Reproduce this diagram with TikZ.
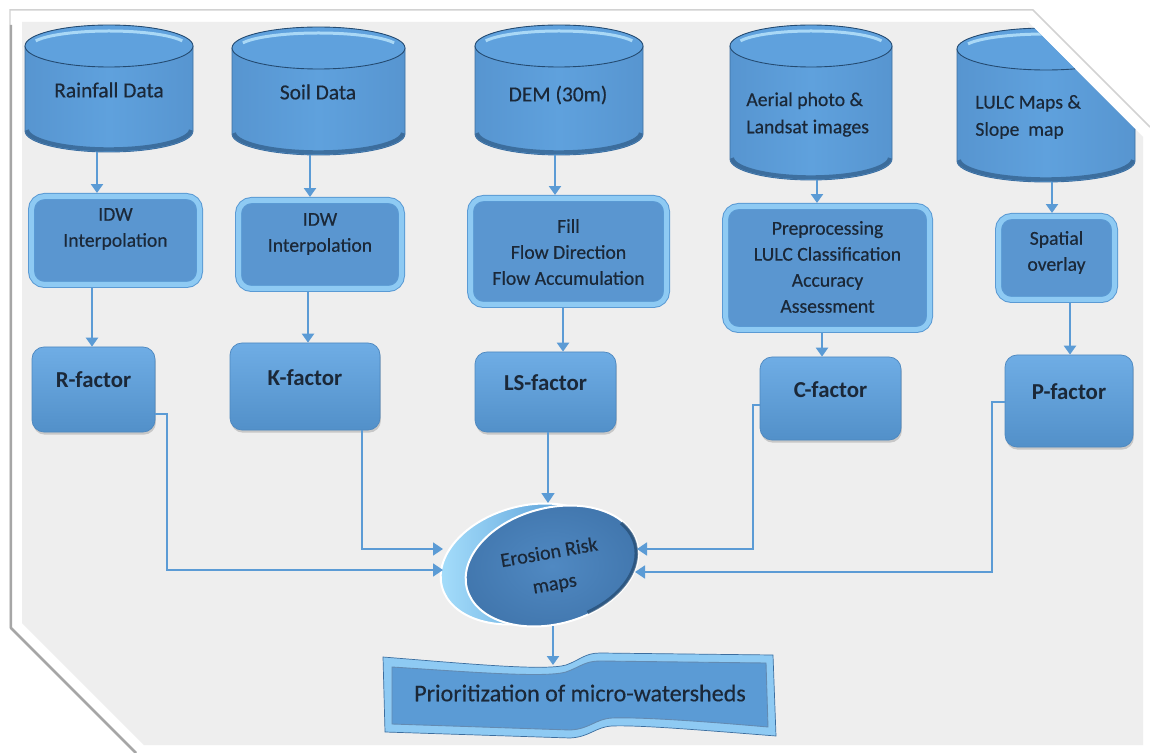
\documentclass[tikz,border=0pt]{standalone}
\usepackage{fontspec}
\setmainfont{Carlito}
\newfontfamily\semib{Carlito}[FakeBold=0.4]
\usetikzlibrary{arrows.meta,shapes.geometric,shadows}
\definecolor{bgc}{HTML}{EEEEEE}
\definecolor{mblue}{HTML}{5B9BD5}
\definecolor{cylc}{HTML}{5FA1DD}
\definecolor{cylside}{HTML}{5795D0}
\definecolor{lblue}{HTML}{8ECAF3}
\definecolor{dblue}{HTML}{3C6E9F}
\definecolor{ddblue}{HTML}{244A70}
\definecolor{txtc}{HTML}{1B2838}
\definecolor{connc}{HTML}{5B9BD5}
\definecolor{hilite}{HTML}{A9D8F6}
\definecolor{procfill}{HTML}{5A96D0}
\definecolor{procline}{HTML}{5A9AD4}
\definecolor{factop}{HTML}{6FADE5}
\definecolor{facbot}{HTML}{5290C9}
\definecolor{facline}{HTML}{4D88C0}
\definecolor{backl}{HTML}{A8E0FC}
\definecolor{backr}{HTML}{3F88CC}
\definecolor{frontin}{HTML}{5089C2}
\definecolor{frontout}{HTML}{4176AD}

\tikzset{
  geo/.style={inner sep=0pt, outer sep=0pt, draw=none},
  cyltext/.style={font=\semib\fontsize{12.2}{15.5}\selectfont, text=txtc, align=center, inner sep=0pt},
  cylltext/.style={font=\semib\fontsize{11.2}{15.5}\selectfont, text=txtc, align=left, inner sep=0pt, anchor=west},
  proc/.style={rounded corners=0.26cm, fill=procfill, draw=procline, double=lblue,
               double distance=0.1cm, line width=0.02cm, outer sep=0.07cm, inner sep=0pt},
  proctext/.style={font=\semib\fontsize{11.2}{14.8}\selectfont, text=txtc, align=center, inner sep=0pt},
  factor/.style={rounded corners=0.24cm, top color=factop, bottom color=facbot, draw=facline,
                 line width=0.4pt, inner sep=0pt,
                 drop shadow={opacity=0.35, shadow xshift=0.5pt, shadow yshift=-1.5pt}},
  factext/.style={font=\fontsize{13}{16}\selectfont\bfseries, text=txtc, inner sep=0pt},
  ermtext/.style={font=\semib\fontsize{11.5}{18}\selectfont, text=txtc, align=center, inner sep=0pt, rotate=10},
  priotext/.style={font=\semib\fontsize{13.7}{16}\selectfont, text=txtc, inner sep=0pt},
  arr/.style={draw=connc, line width=0.05cm, -{Triangle[width=0.24cm,length=0.18cm]}},
  rline/.style={draw=connc, line width=0.035cm, -{Triangle[width=0.26cm,length=0.2cm]}}
}

% name, x1, y1, x2, y2
\newcommand\cylshape[5]{%
  \pgfmathsetmacro\cylcx{(#2+#4)/2}%
  \pgfmathsetmacro\cylrx{(#4-#2)/2}%
  \shade[left color=cylside, right color=cylside, middle color=cylc]
    (#2,#3+21) -- (#2,#5-21)
    arc[start angle=180, end angle=360, x radius={\cylrx*0.02cm}, y radius=0.42cm]
    -- (#4,#3+21)
    arc[start angle=0, end angle=180, x radius={\cylrx*0.02cm}, y radius=0.42cm] -- cycle;
  \draw[ddblue, line width=0.08cm, opacity=.55]
    ({#2+2},{#5-22}) arc[start angle=182, end angle=358, x radius={(\cylrx-2)*0.02cm}, y radius=0.40cm];
  \draw[dblue, line width=0.5pt] (#2,#3+21) -- (#2,#5-21)
    arc[start angle=180, end angle=360, x radius={\cylrx*0.02cm}, y radius=0.42cm] -- (#4,#3+21);
  \fill[cylc] (\cylcx,#3+21) ellipse[x radius={\cylrx*0.02cm}, y radius=0.42cm];
  \draw[hilite, line width=0.06cm]
    ({\cylcx+(\cylrx-6)*cos(160)},{#3+21-15*sin(160)})
    arc[start angle=160, end angle=20, x radius={(\cylrx-6)*0.02cm}, y radius=0.30cm];
  \draw[ddblue, line width=0.5pt] (\cylcx,#3+21) ellipse[x radius={\cylrx*0.02cm}, y radius=0.42cm];
  \node[geo, minimum width={(#4-#2)*0.02cm}, minimum height={(#5-#3)*0.02cm}] (#1) at (\cylcx,{(#3+#5)/2}) {};
}
% name, x1, y1, x2, y2, ytext, text
\newcommand\procbox[7]{%
  \node[proc, minimum width={(#4-#2-7)*0.02cm}, minimum height={(#5-#3-7)*0.02cm}] (#1) at ({(#2+#4)/2},{(#3+#5)/2}) {};
  \node[proctext] (#1T) at ({(#2+#4)/2},#6) {#7};
}
% name, x1, y1, x2, y2, ytext, text
\newcommand\facbox[7]{%
  \node[factor, minimum width={(#4-#2)*0.02cm}, minimum height={(#5-#3)*0.02cm}] (#1) at ({(#2+#4)/2},{(#3+#5)/2}) {};
  \node[factext] (#1T) at ({(#2+#4)/2},#6) {#7};
}

\begin{document}
\begin{tikzpicture}[x=0.02cm, y=-0.02cm]
\useasboundingbox (0,0) rectangle (1150,753);
\fill[white] (0,0) rectangle (1150,753);

% frame
\draw[gray!35, line width=0.03cm] (10,628) -- (10,10) -- (1033,10) -- (1150,127);
\draw[gray!70, line width=0.05cm] (11,25) -- (11,628) -- (136,753);
\fill[bgc] (22,22) -- (1028,22) -- (1143,137) -- (1143,745) -- (144,745) -- (22,623) -- cycle;

\begin{scope}
\clip (22,22) -- (1028,22) -- (1143,137) -- (1143,745) -- (144,745) -- (22,623) -- cycle;

% cylinders
\cylshape{rain}{25}{25}{193}{152}
\node[cyltext] (rainT) at (109,90) {Rainfall Data};
\cylshape{soil}{232}{27}{405}{155}
\node[cyltext] (soilT) at (318,92) {Soil Data};
\cylshape{dem}{475}{25}{643}{155}
\node[cyltext] (demT) at (558,95) {DEM (30m)};
\cylshape{aer}{730}{25}{892}{180}
\node[cylltext] (aerT) at (746,114.5) {Aerial photo \&\\Landsat images};
\cylshape{lulc}{957}{28}{1135}{182}
\node[cylltext] (lulcT) at (975,117) {LULC Maps \&\\Slope\ \ map};

% process boxes
\procbox{idw1}{28}{193}{203}{288}{229}{IDW\\Interpolation}
\procbox{idw2}{235}{197}{405}{292}{234}{IDW\\Interpolation}
\procbox{fill}{467}{195}{670}{308}{252}{Fill\\Flow Direction\\Flow Accumulation}
\procbox{pre}{722}{203}{933}{333}{267}{Preprocessing\\LULC Classification\\Accuracy\\Assessment}
\procbox{spat}{995}{213}{1118}{303}{252.5}{Spatial\\overlay}

% factor boxes
\facbox{rfac}{32}{347}{155}{432}{380}{R-factor}
\facbox{kfac}{230}{343}{380}{430}{378}{K-factor}
\facbox{lsfac}{475}{352}{616}{432}{383}{LS-factor}
\facbox{cfac}{760}{357}{901}{440}{390}{C-factor}
\facbox{pfac}{1005}{355}{1133}{447}{392}{P-factor}

% erosion risk ellipse
\node[ellipse, geo, minimum width={176*0.02cm}, minimum height={116*0.02cm}, rotate=15,
      left color=backl, right color=backr, draw=white, line width=0.04cm] (ermback) at (527,564) {};
\node[ellipse, geo, minimum width={176*0.02cm}, minimum height={116*0.02cm}, rotate=15,
      inner color=frontin, outer color=frontout, draw=white, line width=0.04cm] (erm) at (552,566) {};
\draw[rotate around={15:(552,566)}, ddblue, line width=0.07cm, opacity=.7]
  ({552+86*cos(-75)},{566-56*sin(-75)}) arc[start angle=-75, end angle=25, x radius=1.72cm, y radius=1.12cm];
\node[ermtext] (ermT) at (552,569) {Erosion Risk\\maps};

% banner
\filldraw[fill=lblue, draw=dblue, line width=0.4pt]
  (383,657) .. controls (470,664) and (545,671) .. (566,665)
  .. controls (580,660) and (585,653) .. (600,653) -- (773,655) -- (776,736)
  .. controls (700,730) and (640,725) .. (612,726)
  .. controls (595,727) and (590,737) .. (570,738) -- (385,732) -- cycle;
\filldraw[fill=mblue, draw=dblue!80, line width=0.5pt]
  (392,667) .. controls (470,672) and (545,678) .. (566,672)
  .. controls (580,667) and (585,661) .. (600,661) -- (766,663) -- (768,727)
  .. controls (700,721) and (640,717) .. (612,718)
  .. controls (595,719) and (590,729) .. (570,730) -- (392,724) -- cycle;
\node[geo, minimum width={392*0.02cm}, minimum height={70*0.02cm}] (prio) at (579,700) {};
\node[priotext] (prioT) at (580,693) {Prioritization of micro-watersheds};

% column coordinates
\coordinate (a1) at (97,0);  \coordinate (a2) at (310,0); \coordinate (a3) at (555,0);
\coordinate (a4) at (817,0); \coordinate (a5) at (1052,0);
\coordinate (b1) at (92,0);  \coordinate (b2) at (308,0); \coordinate (b3) at (563,0);
\coordinate (b4) at (822,0); \coordinate (b5) at (1070,0);
\coordinate (eL1) at (443,549); \coordinate (eL2) at (443,570);
\coordinate (eR1) at (637,549); \coordinate (eR2) at (635,572);
\coordinate (eT) at (548,503);  \coordinate (eB) at (553,626);

% connectors
\draw[arr] (rain.south -| a1) -- (idw1.north -| a1);
\draw[arr] (soil.south -| a2) -- (idw2.north -| a2);
\draw[arr] (dem.south -| a3) -- (fill.north -| a3);
\draw[arr] (aer.south -| a4) -- (pre.north -| a4);
\draw[arr] (lulc.south -| a5) -- (spat.north -| a5);
\draw[arr] (idw1.south -| b1) -- (rfac.north -| b1);
\draw[arr] (idw2.south -| b2) -- (kfac.north -| b2);
\draw[arr] (fill.south -| b3) -- (lsfac.north -| b3);
\draw[arr] (pre.south -| b4) -- (cfac.north -| b4);
\draw[arr] (spat.south -| b5) -- (pfac.north -| b5);

\draw[rline] ([yshift=-0.49cm]rfac.east) -- ++(12,0) |- (eL2);
\draw[rline] ([xshift=1.14cm]kfac.south) |- (eL1);
\draw[rline] (lsfac.south -| eT) -- (eT);
\draw[rline] ([yshift=-0.13cm]cfac.west) -- ++(-7,0) |- (eR1);
\draw[rline] ([yshift=-0.02cm]pfac.west) -- ++(-13,0) |- (eR2);
\draw[arr] (eB) -- (eB |- prio.north);
\end{scope}
\end{tikzpicture}
\end{document}
